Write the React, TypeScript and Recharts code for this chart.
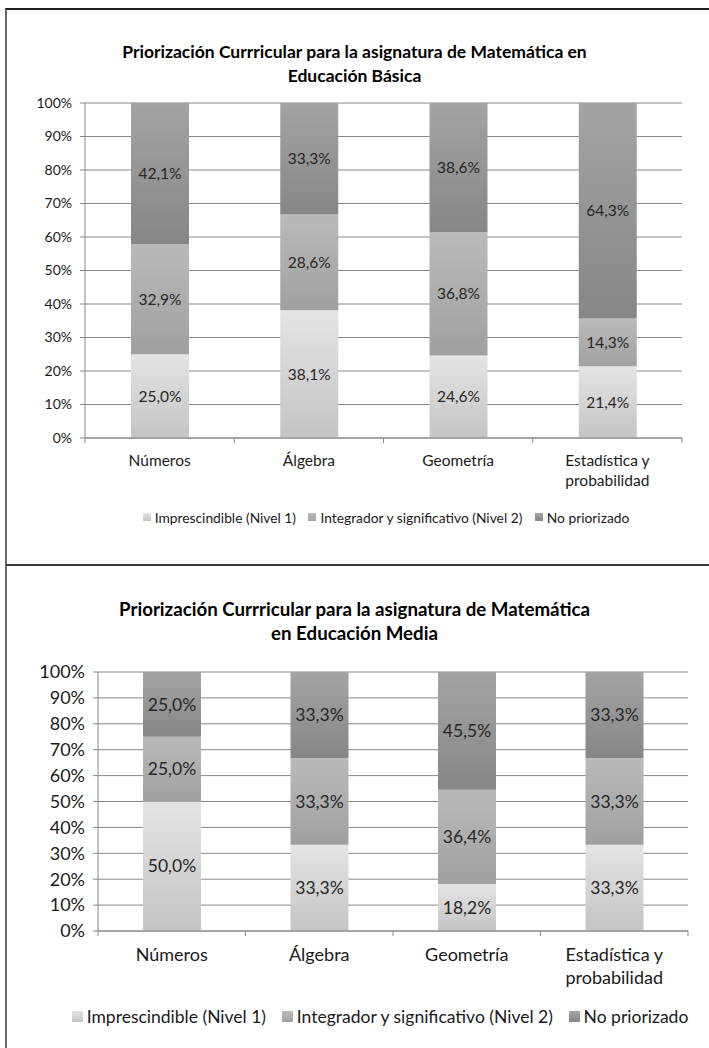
import { Bar, BarChart, CartesianGrid, LabelList, Text, XAxis, YAxis } from 'recharts'

const FONT = 'Lato, "Open Sans", sans-serif'
const GRID = '#878787'

const categories = ['Números', 'Álgebra', 'Geometría', 'Estadística y probabilidad']
const seriesNames = ['Imprescindible (Nivel 1)', 'Integrador y significativo (Nivel 2)', 'No priorizado']
const seriesKeys = ['nivel1', 'nivel2', 'noPriorizado']

// Educación Básica
const basicaNivel1 = [25.0, 38.1, 24.6, 21.4]
const basicaNivel2 = [32.9, 28.6, 36.8, 14.3]
const basicaNoPriorizado = [42.1, 33.3, 38.6, 64.3]

// Educación Media
const mediaNivel1 = [50.0, 33.3, 18.2, 33.3]
const mediaNivel2 = [25.0, 33.3, 36.4, 33.3]
const mediaNoPriorizado = [25.0, 33.3, 45.5, 33.3]

const yTicks = [0, 0.1, 0.2, 0.3, 0.4, 0.5, 0.6, 0.7, 0.8, 0.9, 1]

// top / bottom colour of each series gradient
const fills = [
  ['#e4e4e4', '#c4c4c4'],
  ['#bababa', '#a0a0a0'],
  ['#a4a4a4', '#868686'],
]

function buildRows(n1: number[], n2: number[], np: number[]) {
  return categories.map((name, i) => ({ name, nivel1: n1[i], nivel2: n2[i], noPriorizado: np[i] }))
}

const pct = (v: any) => `${Number(v).toFixed(1).replace('.', ',')}%`

interface PanelProps {
  id: string
  top: number
  title: string[]
  titleSize: number
  titleCenter: number
  titleLine: number
  rows: any[]
  plotTop: number
  plotBottom: number
  axisLeft: number
  axisRight: number
  tickSize: number
  catSize: number
  catLine: number
  labelSize: number
  legendCenter: number
  legendX: number
  legendSize: number
}

function Panel(p: PanelProps) {
  const step = (p.axisRight - p.axisLeft) / categories.length
  const xAxisH = 70
  const chartH = p.plotBottom - p.top + xAxisH

  const renderTick = (props: any) => {
    const { x, y, payload, index } = props
    const last = index === categories.length - 1 || payload.value === categories[categories.length - 1]
    return (
      <g>
        <line x1={x - step / 2} x2={x - step / 2} y1={y} y2={y + 5} stroke={GRID} />
        {last && <line x1={x + step / 2} x2={x + step / 2} y1={y} y2={y + 5} stroke={GRID} />}
        <Text
          x={x}
          y={y + 17}
          width={step - 30}
          textAnchor="middle"
          verticalAnchor="start"
          lineHeight={p.catLine}
          fill="#1a1a1a"
          style={{ fontSize: p.catSize, fontFamily: FONT }}
        >
          {payload.value}
        </Text>
      </g>
    )
  }

  return (
    <>
      <div
        style={{
          position: 'absolute',
          left: 0,
          top: p.titleCenter - p.titleLine / 2,
          width: 709,
          textAlign: 'center',
          fontFamily: FONT,
          fontWeight: 700,
          fontSize: p.titleSize,
          lineHeight: `${p.titleLine}px`,
          color: '#000',
        }}
      >
        {p.title.map((t) => (
          <div key={t}>{t}</div>
        ))}
      </div>
      <div style={{ position: 'absolute', left: 0, top: p.top }}>
        <BarChart
          width={709}
          height={chartH}
          data={p.rows}
          stackOffset="expand"
          margin={{ top: p.plotTop - p.top, right: 709 - p.axisRight, bottom: 0, left: 0 }}
        >
          <defs>
            {fills.map(([a, b], k) => (
              <linearGradient key={k} id={`${p.id}-g${k}`} x1="0" y1="0" x2="0" y2="1">
                <stop offset="0" stopColor={a} />
                <stop offset="1" stopColor={b} />
              </linearGradient>
            ))}
          </defs>
          <CartesianGrid vertical={false} stroke={GRID} />
          <XAxis
            dataKey="name"
            height={xAxisH}
            axisLine={{ stroke: GRID }}
            tickLine={false}
            tickSize={0}
            tickMargin={0}
            interval={0}
            tick={renderTick}
          />
          <YAxis
            width={p.axisLeft}
            domain={[0, 1]}
            ticks={yTicks}
            interval={0}
            axisLine={{ stroke: GRID }}
            tickLine={{ stroke: GRID }}
            tickSize={5}
            tickMargin={8}
            tick={{ fill: '#1a1a1a', fontSize: p.tickSize, fontFamily: FONT }}
            tickFormatter={(v) => `${Math.round(v * 100)}%`}
          />
          {seriesKeys.map((key, k) => (
            <Bar key={key} dataKey={key} stackId="a" barSize={58} fill={`url(#${p.id}-g${k})`} isAnimationActive={false}>
              <LabelList
                dataKey={key}
                position="center"
                formatter={pct}
                fill="#262626"
                style={{ fontSize: p.labelSize, fontFamily: FONT }}
              />
            </Bar>
          ))}
        </BarChart>
      </div>
      <div
        style={{
          position: 'absolute',
          left: p.legendX - 400,
          width: 800,
          top: p.legendCenter - 12,
          height: 24,
          display: 'flex',
          justifyContent: 'center',
          alignItems: 'center',
          fontFamily: FONT,
          fontSize: p.legendSize,
          color: '#1a1a1a',
          whiteSpace: 'nowrap',
        }}
      >
        {seriesNames.map((name, k) => (
          <div key={name} style={{ display: 'flex', alignItems: 'center', marginLeft: k === 0 ? 0 : p.legendSize * 0.9 }}>
            <span
              style={{
                display: 'inline-block',
                width: Math.round(p.legendSize * 0.6),
                height: Math.round(p.legendSize * 0.6),
                marginRight: 4,
                background: `linear-gradient(${fills[k][0]}, ${fills[k][1]})`,
              }}
            />
            {name}
          </div>
        ))}
      </div>
    </>
  )
}

export default function App() {
  return (
    <div style={{ position: 'absolute', left: 0, top: 0, width: 709, height: 1048, overflow: 'hidden', background: '#fff' }}>
      <div style={{ position: 'absolute', left: 5, top: 8, width: 720, height: 570, borderLeft: '2px solid #6a6a6a', borderTop: '2px solid #1e1e1e' }} />
      <div style={{ position: 'absolute', left: 5, top: 564, width: 720, height: 500, borderLeft: '2px solid #6a6a6a', borderTop: '2px solid #3a3a3a' }} />
      <Panel
        id="basica"
        top={10}
        title={['Priorización Currricular para la asignatura de Matemática en', 'Educación Básica']}
        titleSize={17.5}
        titleCenter={52}
        titleLine={24}
        rows={buildRows(basicaNivel1, basicaNivel2, basicaNoPriorizado)}
        plotTop={103}
        plotBottom={438}
        axisLeft={85}
        axisRight={682}
        tickSize={14}
        catSize={15.5}
        catLine={20}
        labelSize={15.5}
        legendCenter={517}
        legendX={386}
        legendSize={13.8}
      />
      <Panel
        id="media"
        top={566}
        title={['Priorización Currricular para la asignatura de Matemática', 'en Educación Media']}
        titleSize={18.7}
        titleCenter={609}
        titleLine={24}
        rows={buildRows(mediaNivel1, mediaNivel2, mediaNoPriorizado)}
        plotTop={672}
        plotBottom={931}
        axisLeft={98}
        axisRight={688}
        tickSize={18}
        catSize={18}
        catLine={23}
        labelSize={17.5}
        legendCenter={1016}
        legendX={380}
        legendSize={17.5}
      />
    </div>
  )
}
